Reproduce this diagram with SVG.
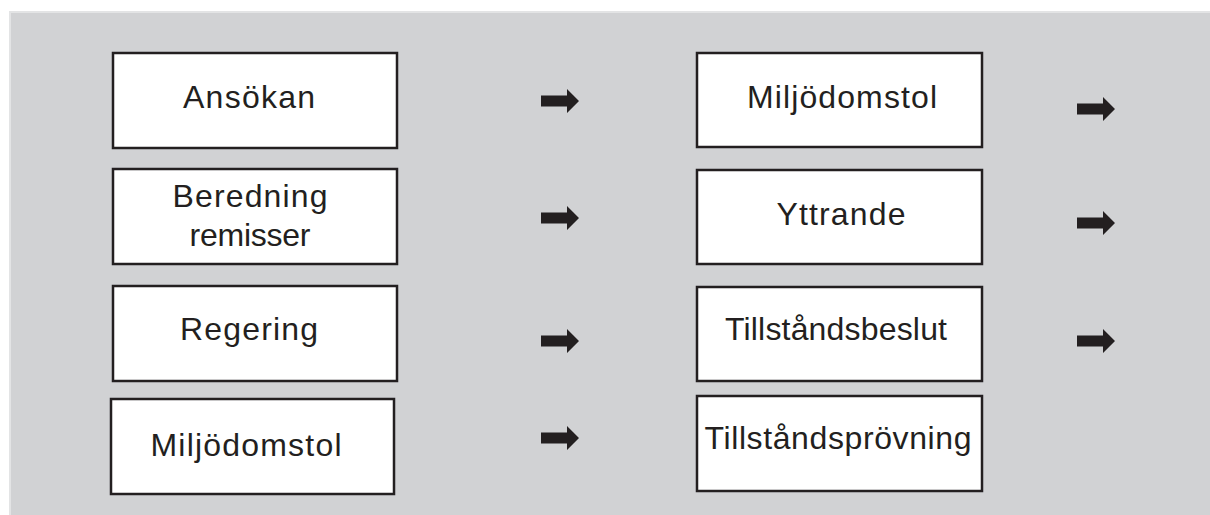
<svg xmlns="http://www.w3.org/2000/svg" xmlns:xlink="http://www.w3.org/1999/xlink" width="1210" height="515" viewBox="0 0 1210 515">
  <style>
    .box { fill: #ffffff; stroke: #231f20; stroke-width: 2.5; }
    .lbl { font-family: "Liberation Sans", Arial, sans-serif; font-size: 32px; fill: #231f20; text-anchor: middle; }
    .arrow { fill: #231f20; }
  </style>
  <defs>
    <path id="arr" d="M0,-5.5 H26 V-12 L38,0 L26,12 V5.5 H0 Z"/>
  </defs>
  <rect x="0" y="0" width="1210" height="515" fill="#ffffff"/>
  <rect x="9" y="11" width="1201" height="504" fill="#d1d2d4"/>
  <rect x="9" y="11" width="1201" height="2" fill="#e3e4e5"/>
  <rect x="9" y="11" width="2" height="504" fill="#e3e4e5"/>

  <g id="n-ansokan">
    <rect class="box" x="113" y="53" width="284" height="95"/>
    <text class="lbl" x="249" y="108" textLength="132" lengthAdjust="spacing">Ansökan</text>
  </g>
  <g id="n-beredning">
    <rect class="box" x="113" y="169" width="284" height="95"/>
    <text class="lbl" x="250" y="207" textLength="155" lengthAdjust="spacing">Beredning</text>
    <text class="lbl" x="250" y="246" textLength="121" lengthAdjust="spacing">remisser</text>
  </g>
  <g id="n-regering">
    <rect class="box" x="113" y="286" width="284" height="95"/>
    <text class="lbl" x="249" y="340" textLength="138" lengthAdjust="spacing">Regering</text>
  </g>
  <g id="n-miljodomstol-1">
    <rect class="box" x="111" y="399" width="283" height="95"/>
    <text class="lbl" x="246" y="456" textLength="191" lengthAdjust="spacing">Miljödomstol</text>
  </g>
  <g id="n-miljodomstol-2">
    <rect class="box" x="697" y="53" width="285" height="94"/>
    <text class="lbl" x="842" y="108" textLength="190" lengthAdjust="spacing">Miljödomstol</text>
  </g>
  <g id="n-yttrande">
    <rect class="box" x="697" y="170" width="285" height="94"/>
    <text class="lbl" x="841" y="225" textLength="129" lengthAdjust="spacing">Yttrande</text>
  </g>
  <g id="n-tillstandsbeslut">
    <rect class="box" x="697" y="287" width="285" height="94"/>
    <text class="lbl" x="836" y="340" textLength="222" lengthAdjust="spacing">Tillståndsbeslut</text>
  </g>
  <g id="n-tillstandsprovning">
    <rect class="box" x="697" y="396" width="285" height="95"/>
    <text class="lbl" x="838" y="449" textLength="267" lengthAdjust="spacing">Tillståndsprövning</text>
  </g>

  <g id="connectors" class="arrow">
    <use xlink:href="#arr" x="541" y="101"/>
    <use xlink:href="#arr" x="541" y="218"/>
    <use xlink:href="#arr" x="541" y="341"/>
    <use xlink:href="#arr" x="541" y="438"/>
    <use xlink:href="#arr" x="1077" y="109"/>
    <use xlink:href="#arr" x="1077" y="223"/>
    <use xlink:href="#arr" x="1077" y="341"/>
  </g>
</svg>
